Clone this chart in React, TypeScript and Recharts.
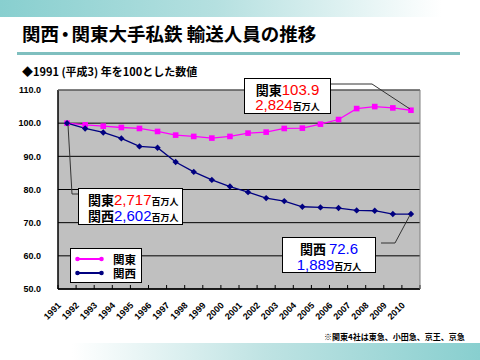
import React from "react";
import { LineChart, Line, XAxis, YAxis, CartesianGrid } from "recharts";

const years = ["1991","1992","1993","1994","1995","1996","1997","1998","1999","2000","2001","2002","2003","2004","2005","2006","2007","2008","2009","2010"];
const kanto = [100.0, 99.5, 99.1, 98.7, 98.4, 97.5, 96.4, 96.0, 95.5, 96.0, 97.0, 97.3, 98.4, 98.5, 99.7, 101.1, 104.4, 105.0, 104.6, 103.9];
const kansai = [100.0, 98.4, 97.2, 95.4, 93.0, 92.6, 88.3, 85.3, 82.9, 80.9, 79.2, 77.4, 76.5, 74.8, 74.6, 74.4, 73.7, 73.6, 72.6, 72.6];
const yTicks = [50, 60, 70, 80, 90, 100, 110];
const seriesNames = ["関東", "関西"];

const data = years.map((y, i) => ({ year: y, kanto: kanto[i], kansai: kansai[i] }));

const BAND = 362 / 20;

const SquareDot = (p: any) => {
  if (p.cx == null || p.cy == null) return null;
  return <rect x={p.cx - 2.8} y={p.cy - 2.8} width={5.6} height={5.6} fill="#FF00FF" />;
};
const DiamondDot = (p: any) => {
  if (p.cx == null || p.cy == null) return null;
  const s = 3.2;
  return (
    <polygon
      points={`${p.cx},${p.cy - s} ${p.cx + s},${p.cy} ${p.cx},${p.cy + s} ${p.cx - s},${p.cy}`}
      fill="#000080"
    />
  );
};

const XTick = (p: any) => {
  const { x, y, payload, index } = p;
  const ax = x - 5.5;
  const ay = y + 17;
  return (
    <g>
      <line x1={x - BAND / 2} y1={y} x2={x - BAND / 2} y2={y - 4} stroke="#000" />
      {index === years.length - 1 && (
        <line x1={x + BAND / 2} y1={y} x2={x + BAND / 2} y2={y - 4} stroke="#000" />
      )}
      <text
        x={ax}
        y={ay}
        textAnchor="end"
        transform={`rotate(-45 ${ax} ${ay})`}
        fontFamily="Liberation Sans, Arial, sans-serif"
        fontWeight="bold"
        fontSize={9}
        fill="#000"
      >
        {payload.value}
      </text>
    </g>
  );
};

const cjk = "Noto Sans CJK JP, sans-serif";
const lat = "Liberation Sans, Arial, sans-serif";

const LegendBox = () => (
  <div
    style={{
      position: "absolute",
      left: 70,
      top: 248,
      width: 72,
      height: 35,
      boxSizing: "border-box",
      border: "1px solid #000",
      background: "#fff",
    }}
  >
    <svg width={70} height={33} style={{ position: "absolute", left: 0, top: 0 }}>
      <line x1={6} y1={10} x2={31} y2={10} stroke="#FF00FF" strokeWidth={2} />
      <circle cx={6.5} cy={10} r={2.3} fill="#FF00FF" />
      <circle cx={30.5} cy={10} r={2.3} fill="#FF00FF" />
      <line x1={6} y1={24} x2={31} y2={24} stroke="#000080" strokeWidth={2} />
      <circle cx={6.5} cy={24} r={2.3} fill="#000080" />
      <circle cx={30.5} cy={24} r={2.3} fill="#000080" />
      <text x={42} y={14.5} fontSize={11.5} fontWeight="bold" fontFamily={cjk} fill="#000">{seriesNames[0]}</text>
      <text x={42} y={28.5} fontSize={11.5} fontWeight="bold" fontFamily={cjk} fill="#000">{seriesNames[1]}</text>
    </svg>
  </div>
);

const Big = ({ c, children }: any) => (
  <span style={{ fontFamily: cjk, fontWeight: 700, fontSize: 13, color: c || "#000" }}>{children}</span>
);
const Num = ({ c, children }: any) => (
  <span style={{ fontFamily: lat, fontSize: 15, color: c }}>{children}</span>
);
const Unit = () => (
  <span style={{ fontFamily: cjk, fontWeight: 700, fontSize: 9, color: "#000" }}>百万人</span>
);

const boxStyle = (l: number, t: number, w: number, h: number): React.CSSProperties => ({
  position: "absolute",
  left: l,
  top: t,
  width: w,
  height: h,
  boxSizing: "border-box",
  border: "1px solid #000",
  background: "#fff",
});

const lineStyle: React.CSSProperties = { position: "absolute", left: 0, width: "100%", whiteSpace: "nowrap", lineHeight: "16px" };

export default function App() {
  return (
    <div style={{ position: "absolute", left: 0, top: 0, width: 480, height: 360, background: "#fff", overflow: "hidden" }}>
      <div
        style={{
          position: "absolute",
          left: 0,
          top: 0,
          width: 480,
          height: 17,
          background: "linear-gradient(to right, #88CFCF 0%, #B5E0E0 45%, #ffffff 92%)",
        }}
      />
      <div
        style={{
          position: "absolute",
          left: 0,
          top: 343,
          width: 480,
          height: 17,
          background: "linear-gradient(to right, #ffffff 15%, #BFE3E3 55%, #88CFCF 100%)",
        }}
      />
      <div
        style={{
          position: "absolute",
          left: 22,
          top: 20,
          fontFamily: cjk,
          fontWeight: 700,
          fontSize: 18.5,
          lineHeight: "26px",
          color: "#000",
          whiteSpace: "nowrap",
        }}
      >
        関西<span style={{ marginLeft: -3, marginRight: -3 }}>・</span>関東大手私鉄 輸送人員の推移
      </div>
      <div style={{ position: "absolute", left: 17, top: 52, width: 443, height: 3, background: "#7FBFBF" }} />
      <div
        style={{
          position: "absolute",
          left: 22,
          top: 63,
          fontFamily: cjk,
          fontWeight: 700,
          fontSize: 11,
          lineHeight: "16px",
          color: "#000",
          whiteSpace: "nowrap",
        }}
      >
        ◆1991 (平成3) 年を100とした数値
      </div>
      <div
        style={{
          position: "absolute",
          left: 324,
          top: 331,
          fontFamily: cjk,
          fontWeight: 700,
          fontSize: 8,
          lineHeight: "12px",
          color: "#000",
          whiteSpace: "nowrap",
        }}
      >
        ※関東4社は東急、小田急、京王、京急
      </div>

      <div style={{ position: "absolute", left: 0, top: 0 }}>
        <LineChart width={480} height={360} data={data} margin={{ top: 90, right: 60, bottom: 31, left: 0 }}>
          <CartesianGrid fill="#C0C0C0" stroke="#000" strokeOpacity={1} vertical={false} horizontal={true} />
          <XAxis
            dataKey="year"
            type="category"
            interval={0}
            padding={{ left: BAND / 2, right: BAND / 2 }}
            height={40}
            tickSize={0}
            tickMargin={0}
            tickLine={false}
            axisLine={{ stroke: "#000", strokeWidth: 1.5 }}
            tick={<XTick />}
          />
          <YAxis
            domain={[50, 110]}
            ticks={yTicks}
            width={58}
            tickLine={false}
            tickMargin={11}
            axisLine={{ stroke: "#000", strokeWidth: 1.5 }}
            tickFormatter={(v: number) => v.toFixed(1)}
            tick={{ fontFamily: lat, fontWeight: "bold", fontSize: 9, fill: "#000" }}
          />
          <Line
            dataKey="kanto"
            name={seriesNames[0]}
            stroke="#FF00FF"
            strokeWidth={1.3}
            dot={<SquareDot />}
            isAnimationActive={false}
          />
          <Line
            dataKey="kansai"
            name={seriesNames[1]}
            stroke="#000080"
            strokeWidth={1.3}
            dot={<DiamondDot />}
            isAnimationActive={false}
          />
        </LineChart>
      </div>

      <svg width={480} height={360} style={{ position: "absolute", left: 0, top: 0, pointerEvents: "none" }}>
        <line x1={58} y1={90} x2={420} y2={90} stroke="#808080" strokeWidth={1} />
        <line x1={420} y1={90} x2={420} y2={289} stroke="#808080" strokeWidth={1} />
        <polyline points="331,84 372,84 410,109" fill="none" stroke="#333" strokeWidth={1} />
        <polyline points="68,125 72,194 78,194" fill="none" stroke="#333" strokeWidth={1} />
        <polyline points="381,243 395,243 410,215" fill="none" stroke="#333" strokeWidth={1} />
      </svg>

      <LegendBox />

      <div style={boxStyle(244, 78, 87, 36)}>
        <div style={{ ...lineStyle, top: 3, textAlign: "center" }}>
          <Big>関東</Big>
          <Num c="#FF0000">103.9</Num>
        </div>
        <div style={{ ...lineStyle, top: 18, textAlign: "center" }}>
          <Num c="#FF0000">2,824</Num>
          <Unit />
        </div>
      </div>

      <div style={boxStyle(78, 188, 105, 37)}>
        <div style={{ ...lineStyle, top: 3, left: 9 }}>
          <Big>関東</Big>
          <Num c="#FF0000">2,717</Num>
          <Unit />
        </div>
        <div style={{ ...lineStyle, top: 19, left: 9 }}>
          <Big>関西</Big>
          <Num c="#0000FF">2,602</Num>
          <Unit />
        </div>
      </div>

      <div style={boxStyle(282, 237, 94, 36)}>
        <div style={{ ...lineStyle, top: 3, textAlign: "center" }}>
          <Big>関西 </Big>
          <Num c="#0000FF">72.6</Num>
        </div>
        <div style={{ ...lineStyle, top: 19, textAlign: "center" }}>
          <Num c="#0000FF">1,889</Num>
          <Unit />
        </div>
      </div>
    </div>
  );
}
